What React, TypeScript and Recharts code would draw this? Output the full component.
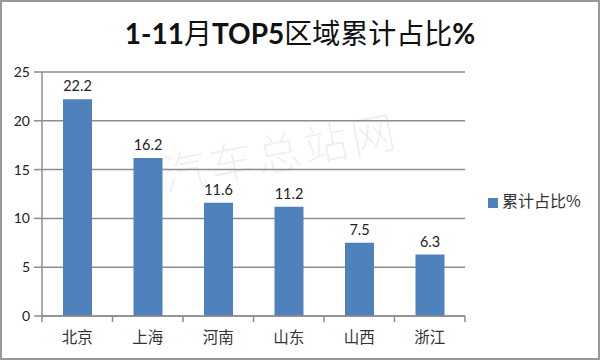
import React from 'react';
import { BarChart, Bar, XAxis, YAxis, CartesianGrid, Legend, LabelList } from 'recharts';

const regions = ['北京', '上海', '河南', '山东', '山西', '浙江'];
const shares = [22.2, 16.2, 11.6, 11.2, 7.5, 6.3];
const yTicks = [0, 5, 10, 15, 20, 25];

const data = regions.map((name, i) => ({ name, value: shares[i] }));

const NUM_FONT = 'Lato, "Noto Sans", sans-serif';
const CJK_FONT = '"Noto Sans CJK SC", sans-serif';
const BLUE = '#4f81bd';
const GRID = '#8c8c8c';

function CategoryTick(props: any) {
  const { x, y, payload, index, visibleTicksCount } = props;
  const half = payload && payload.offset ? payload.offset : 35;
  const last = index === (visibleTicksCount || regions.length) - 1;
  return (
    <g>
      <line x1={x - half} y1={y - 8} x2={x - half} y2={y - 2} stroke={GRID} strokeWidth={1.5} />
      {last && <line x1={x + half} y1={y - 8} x2={x + half} y2={y - 2} stroke={GRID} strokeWidth={1.5} />}
      <text x={x} y={y + 19} textAnchor="middle" fontSize={15.5} fill="#333" fontFamily={CJK_FONT}>
        {payload.value}
      </text>
    </g>
  );
}

export default function App() {
  return (
    <div style={{ position: 'absolute', left: 0, top: 0, width: 600, height: 360, background: '#fff' }}>
      <div
        style={{
          position: 'absolute',
          top: 14,
          left: 0,
          width: 600,
          textAlign: 'center',
          fontSize: 28,
          lineHeight: '36px',
          color: '#111',
          fontFamily: NUM_FONT,
        }}
      >
        <b>1-11</b>
        <span style={{ fontFamily: CJK_FONT }}>月</span>
        <b>TOP5</b>
        <span style={{ fontFamily: CJK_FONT }}>区域累计占比</span>
        <b>%</b>
      </div>
      <div
        style={{
          position: 'absolute',
          left: 150,
          top: 118,
          width: 260,
          textAlign: 'center',
          fontSize: 44,
          fontWeight: 300,
          color: 'rgba(0,0,0,0.07)',
          fontFamily: CJK_FONT,
          transform: 'rotate(-11deg)',
          letterSpacing: 4,
          pointerEvents: 'none',
        }}
      >
        汽车总站网
      </div>
      <div style={{ position: 'absolute', left: 0, top: 0 }}>
        <BarChart width={600} height={360} data={data} margin={{ top: 72, right: 135, bottom: 14, left: 0 }}>
          <CartesianGrid vertical={false} stroke={GRID} strokeWidth={1.5} />
          <XAxis
            dataKey="name"
            axisLine={{ stroke: GRID, strokeWidth: 1.5 }}
            tickLine={false}
            tick={<CategoryTick />}
            interval={0}
            height={30}
          />
          <YAxis
            domain={[0, 25]}
            ticks={yTicks}
            width={42}
            axisLine={{ stroke: GRID, strokeWidth: 1.5 }}
            tickLine={{ stroke: GRID, strokeWidth: 1.5 }}
            tickSize={8}
            tickMargin={4}
            tick={{ fontSize: 14, fill: '#222', fontFamily: NUM_FONT }}
          />
          <Legend
            layout="horizontal"
            align="center"
            verticalAlign="middle"
            iconType="square"
            iconSize={10}
            wrapperStyle={{ left: 488, top: 188, width: 'auto', fontFamily: CJK_FONT, fontSize: 16 }}
            formatter={(v: any) => <span style={{ color: '#333' }}>{v}</span>}
          />
          <Bar dataKey="value" name="累计占比%" fill={BLUE} barSize={29} isAnimationActive={false}>
            <LabelList
              dataKey="value"
              position="top"
              offset={8}
              style={{ fontSize: 14.5, fill: '#222', fontFamily: NUM_FONT }}
            />
          </Bar>
        </BarChart>
      </div>
      <div
        style={{
          position: 'absolute',
          left: 0,
          top: 0,
          width: 600,
          height: 360,
          boxSizing: 'border-box',
          border: '2px solid #999',
          pointerEvents: 'none',
        }}
      />
    </div>
  );
}
